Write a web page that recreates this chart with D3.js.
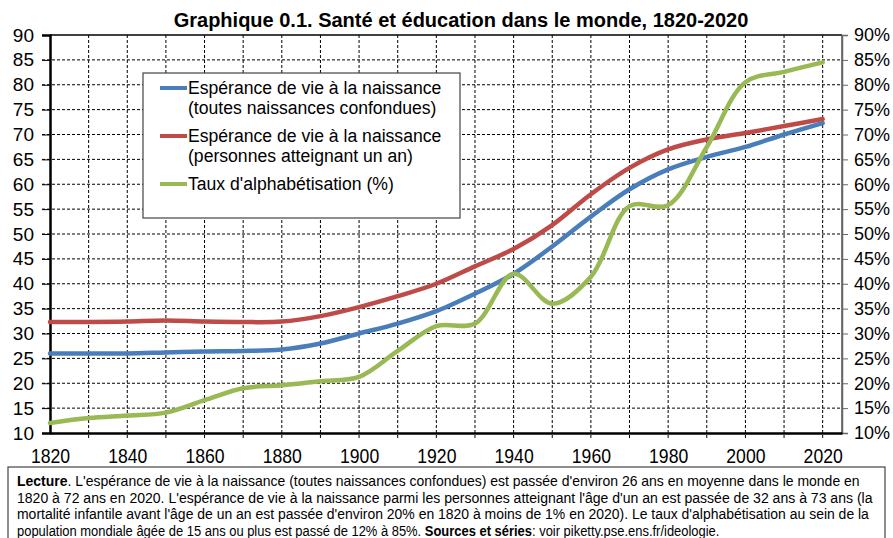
<!DOCTYPE html>
<html lang="fr">
<head>
<meta charset="utf-8">
<title>Santé et éducation dans le monde, 1820-2020</title>
<script src="https://cdn.jsdelivr.net/npm/d3@7"></script>
<style>
  body { margin: 0; background: #fff; }
  svg { display: block; font-family: "Liberation Sans", Arial, sans-serif; }
  .grid line { stroke: #000; stroke-width: 1; stroke-dasharray: 3,2; }
</style>
</head>
<body>
<div id="chart"></div>
<script>
// decades 1820..2020
var years = [1820,1830,1840,1850,1860,1870,1880,1890,1900,1910,1920,1930,1940,1950,1960,1970,1980,1990,2000,2010,2020];
// espérance de vie à la naissance (toutes naissances confondues)
var lifeAll = [26,26,26,26.2,26.4,26.5,26.8,28,30,32,34.5,38,42,47.5,53.5,59,63,65.5,67.5,70,72.3];
// espérance de vie à la naissance (personnes atteignant un an)
var lifeOne = [32.3,32.3,32.4,32.6,32.4,32.3,32.4,33.5,35.3,37.5,40,43.5,47,51.8,58,63.3,67,69,70.3,71.7,73.1];
// taux d'alphabétisation (%)
var literacy = [12,13,13.5,14.1,16.6,19,19.6,20.4,21.3,26.5,31.5,32,42,36,41.4,55.6,55.8,67.5,80.5,82.6,84.5];

var leftTicks = d3.range(10, 91, 5);
var xTicks = d3.range(1820, 2021, 20);
var xGrid = d3.range(1830, 2021, 10);

var seriesNames = [
  ["Espérance de vie à la naissance", "(toutes naissances confondues)"],
  ["Espérance de vie à la naissance", "(personnes atteignant un an)"],
  ["Taux d'alphabétisation (%)"]
];
var colors = ["#4A7EBB", "#BE4B48", "#98B954"];

var title = "Graphique 0.1. Santé et éducation dans le monde, 1820-2020";
var note = [
  [["Lecture", true], [". L'espérance de vie à la naissance (toutes naissances confondues) est passée d'environ 26 ans en moyenne dans le monde en", false]],
  [["1820 à 72 ans en 2020. L'espérance de vie à la naissance parmi les personnes atteignant l'âge d'un an est passée de 32 ans à 73 ans (la", false]],
  [["mortalité infantile avant l'âge de un an est passée d'environ 20% en 1820 à moins de 1% en 2020). Le taux d'alphabétisation au sein de la", false]],
  [["population mondiale âgée de 15 ans ou plus est passé de 12% à 85%.  ", false], ["Sources et séries", true], [": voir piketty.pse.ens.fr/ideologie.", false]]
];
var noteWidths = [843, 856, 853, 703];

var W = 893, H = 538;
var svg = d3.select("#chart").append("svg").attr("width", W).attr("height", H);

var x = d3.scaleLinear().domain([1820, 2025]).range([50, 842]);
var y = d3.scaleLinear().domain([10, 90]).range([433, 35]);
var yR = d3.scaleLinear().domain([10, 90]).range([433, 35]);

// title
svg.append("text")
  .attr("x", 461).attr("y", 27)
  .attr("text-anchor", "middle")
  .style("font-weight", "bold").style("font-size", "20px")
  .text(title);

// grid
var grid = svg.append("g").attr("class", "grid");
grid.selectAll(".h").data(leftTicks.filter(function(d){ return d > 10 && d < 90; }))
  .enter().append("line")
  .attr("x1", 42).attr("x2", x(2025))
  .attr("y1", function(d){ return y(d); }).attr("y2", function(d){ return y(d); });
grid.selectAll(".v").data(xGrid)
  .enter().append("line")
  .attr("x1", function(d){ return x(d); }).attr("x2", function(d){ return x(d); })
  .attr("y1", y(90)).attr("y2", y(10) + 6);

// frame
svg.append("line").attr("x1", x(1820)).attr("x2", x(2025)).attr("y1", y(90)).attr("y2", y(90))
  .attr("stroke", "#000").attr("stroke-width", 1.5);
svg.append("line").attr("x1", x(2025)).attr("x2", x(2025)).attr("y1", y(90)).attr("y2", y(10))
  .attr("stroke", "#555").attr("stroke-width", 1.5);

// axes
var gL = svg.append("g").attr("transform", "translate(" + x(1820) + ",0)")
  .call(d3.axisLeft(y).tickValues(leftTicks).tickSize(8).tickPadding(8));
gL.select(".domain").attr("stroke-width", 2.5);
gL.selectAll("text").style("font-size", "19px").attr("fill", "#000");

var gR = svg.append("g").attr("transform", "translate(" + x(2025) + ",0)")
  .call(d3.axisRight(yR).tickValues(leftTicks).tickSize(6).tickPadding(6)
    .tickFormat(function(d){ return d + "%"; }));
gR.select(".domain").attr("stroke", "#666").attr("stroke-width", 1.5);
gR.selectAll(".tick line").attr("stroke", "#666");
gR.selectAll("text").style("font-size", "18px").attr("fill", "#000");

var gB = svg.append("g").attr("transform", "translate(0," + y(10) + ")")
  .call(d3.axisBottom(x).tickValues(xTicks).tickSize(0).tickPadding(15)
    .tickFormat(d3.format("d")));
gB.select(".domain").attr("stroke-width", 2.5);
// condensed look of the year labels
gB.selectAll("text").style("font-size", "21px").attr("fill", "#000")
  .attr("transform", "scale(0.84,1)");

// lines
var line = d3.line()
  .x(function(d){ return x(d[0]); })
  .y(function(d){ return d[2] ? yR(d[1]) : y(d[1]); })
  .curve(d3.curveCatmullRom.alpha(0.5));

var allSeries = [
  years.map(function(yr, i){ return [yr, lifeAll[i], false]; }),
  years.map(function(yr, i){ return [yr, lifeOne[i], false]; }),
  years.map(function(yr, i){ return [yr, literacy[i], true]; })
];
svg.selectAll(".series").data(allSeries).enter().append("path")
  .attr("class", "series")
  .attr("d", line)
  .attr("fill", "none")
  .attr("stroke", function(d, i){ return colors[i]; })
  .attr("stroke-width", 4.5)
  .attr("stroke-linecap", "round");

// legend
var legend = svg.append("g");
legend.append("rect")
  .attr("x", 143).attr("y", 73).attr("width", 317).attr("height", 145)
  .attr("fill", "#fff").attr("stroke", "#444").attr("stroke-width", 1.2);
var rowY = [88, 136, 184];
seriesNames.forEach(function(lines, i){
  legend.append("line")
    .attr("x1", 160).attr("x2", 187).attr("y1", rowY[i]).attr("y2", rowY[i])
    .attr("stroke", colors[i]).attr("stroke-width", 4);
  lines.forEach(function(t, j){
    legend.append("text")
      .attr("x", 188).attr("y", rowY[i] + 6 + j * 20)
      .style("font-size", "17.6px")
      .text(t);
  });
});

// note box
svg.append("rect")
  .attr("x", 8).attr("y", 467).attr("width", 877).attr("height", 80)
  .attr("fill", "#fff").attr("stroke", "#444").attr("stroke-width", 1.2);
note.forEach(function(parts, i){
  var t = svg.append("text")
    .attr("x", 0).attr("y", 0)
    .style("font-size", "14.5px");
  parts.forEach(function(p){
    t.append("tspan").style("font-weight", p[1] ? "bold" : "normal").text(p[0]);
  });
  // squeeze each line to the width it takes in the original
  var k = noteWidths[i] / t.node().getComputedTextLength();
  t.attr("transform", "translate(17," + (486 + i * 16.5) + ") scale(" + k + ",1)");
});
</script>
</body>
</html>
